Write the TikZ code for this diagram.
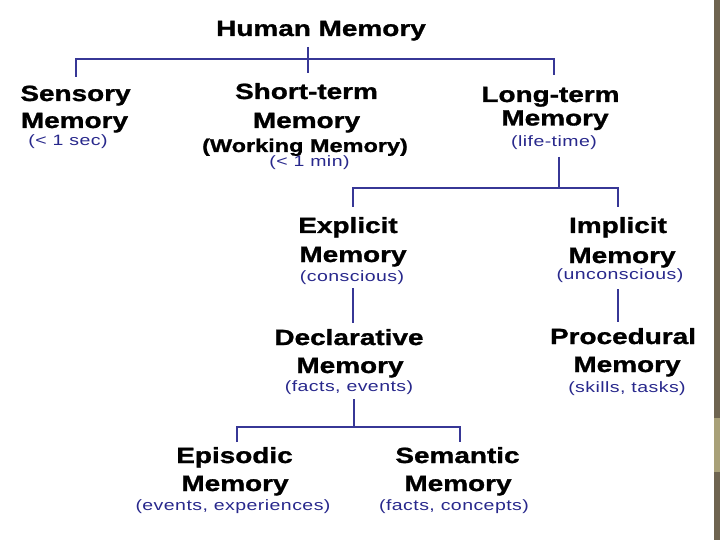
\documentclass[tikz,border=0pt]{standalone}
\usepackage{fontspec}
\setmainfont{Liberation Sans}
\newfontfamily\hb{Liberation Sans}[FakeStretch=1.27,FakeBold=1.2]
\newfontfamily\sm{Liberation Sans}[FakeStretch=1.3,LetterSpace=3]
\definecolor{txtblue}{RGB}{40,40,140}
\definecolor{linkblue}{RGB}{55,55,150}
\definecolor{strip}{RGB}{110,100,80}
\definecolor{stripl}{RGB}{168,160,120}
\tikzset{
  big/.style={font=\hb\bfseries\fontsize{22}{24}\selectfont, anchor=base, inner sep=0pt},
  mid/.style={font=\hb\bfseries\fontsize{18.5}{20}\selectfont, anchor=base, inner sep=0pt},
  note/.style={font=\sm\fontsize{15}{17}\selectfont, text=txtblue, anchor=base, inner sep=0pt},
  link/.style={draw=linkblue, line width=2.2pt}
}
\begin{document}
\begin{tikzpicture}[x=1pt,y=-1pt]
\useasboundingbox (0,0) rectangle (720,540);
\fill[white] (0,0) rectangle (720,540);
\fill[strip] (714,0) rectangle (720,540);
\fill[stripl] (714,418) rectangle (720,472);

% texts
\node[big] (hm) at (321,36) {Human Memory};

\node[big] (sens1) at (75.5,101) {Sensory};
\node[big] (sens2) at (74.5,128) {Memory};
\node[note] (sens3) at (68,146) {(< 1 sec)};

\node[big] (stm1) at (306.5,99) {Short-term};
\node[big] (stm2) at (306.5,128) {Memory};
\node[mid] (stm3) at (305,152) {(Working Memory)};
\node[note] (stm4) at (309.5,167) {(< 1 min)};

\node[big] (ltm1) at (550.5,102) {Long-term};
\node[big] (ltm2) at (555,125.5) {Memory};
\node[note] (ltm3) at (554,147) {(life-time)};

\node[big] (exp1) at (348,233) {Explicit};
\node[big] (exp2) at (353,262) {Memory};
\node[note] (exp3) at (352,281) {(conscious)};

\node[big] (imp1) at (618,233) {Implicit};
\node[big] (imp2) at (622,263) {Memory};
\node[note] (imp3) at (620,279) {(unconscious)};

\node[big] (dec1) at (349,345) {Declarative};
\node[big] (dec2) at (350,373) {Memory};
\node[note] (dec3) at (349,391) {(facts, events)};

\node[big] (pro1) at (623,344) {Procedural};
\node[big] (pro2) at (627,372) {Memory};
\node[note] (pro3) at (627,392) {(skills, tasks)};

\node[big] (epi1) at (234.5,463) {Episodic};
\node[big] (epi2) at (235,491) {Memory};
\node[note] (epi3) at (233,510) {(events, experiences)};

\node[big] (sem1) at (457.5,463) {Semantic};
\node[big] (sem2) at (458,491) {Memory};
\node[note] (sem3) at (454,510) {(facts, concepts)};

% connector end points
\coordinate (hmB) at (308,47);
\coordinate (stmT) at (308,73);
\coordinate (sensT) at (76,77);
\coordinate (barR) at (554,59);
\coordinate (ltmT) at (554,75);

\coordinate (ltmB) at (559,157);
\coordinate (bar2) at (559,188);
\coordinate (expT) at (353,207);
\coordinate (bar2R) at (618,188);
\coordinate (impT) at (618,207);

\coordinate (expB) at (353,288);
\coordinate (decT) at (353,323);
\coordinate (impB) at (618,289);
\coordinate (proT) at (618,322);

\coordinate (decB) at (354,399);
\coordinate (bar3) at (354,427);
\coordinate (epiT) at (237,442);
\coordinate (bar3R) at (460,427);
\coordinate (semT) at (460,442);

% connectors
\draw[link] (hmB) -- (stmT);
\draw[link] (sensT) |- (barR) -- (ltmT);

\draw[link] (ltmB) -- (bar2);
\draw[link] (expT) |- (bar2R) -- (impT);

\draw[link] (expB) -- (decT);
\draw[link] (impB) -- (proT);

\draw[link] (decB) -- (bar3);
\draw[link] (epiT) |- (bar3R) -- (semT);
\end{tikzpicture}
\end{document}
